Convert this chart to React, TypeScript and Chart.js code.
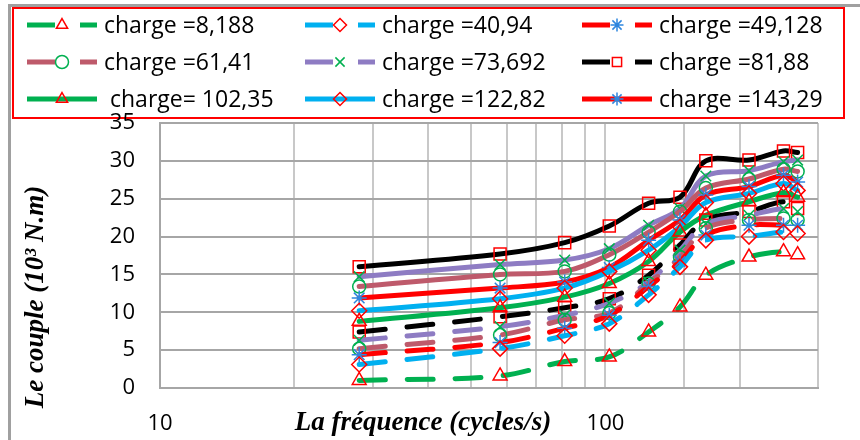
import React, { useEffect, useRef } from 'react';
import { Chart, registerables } from 'chart.js';
import { drawPoint } from 'chart.js/helpers';

Chart.register(...registerables);

// ---- data ----
const frequencies = [28, 58, 81, 102, 125, 147, 168, 210, 251, 270];

const labels = [
  'charge =8,188',
  'charge =40,94',
  'charge =49,128',
  'charge =61,41',
  'charge =73,692',
  'charge =81,88',
  'charge= 102,35',
  'charge =122,82',
  'charge =143,29',
  'charge =163,76',
  'charge =184,23',
  'charge =204,7',
];

const charge8188 = [1.0, 1.6, 3.5, 4.1, 7.4, 10.7, 14.9, 17.3, 18.0, 17.6];
const charge4094 = [3.1, 5.2, 6.9, 8.5, 12.3, 16.0, 19.5, 20.0, 20.6, 20.4];
const charge49128 = [4.4, 6.0, 7.9, 9.6, 13.4, 16.7, 20.2, 21.5, 21.5, 21.5];
const charge6141 = [5.2, 7.0, 9.0, 9.9, 13.8, 17.3, 21.1, 22.2, 22.4, 22.2];
const charge73692 = [6.3, 8.1, 9.6, 11.2, 14.0, 18.2, 21.7, 22.8, 23.7, 23.3];
const charge8188b = [7.4, 9.4, 10.6, 11.8, 14.9, 18.9, 22.2, 23.3, 24.6, 23.7];
const charge10235 = [8.8, 10.6, 12.0, 13.8, 16.7, 20.6, 22.8, 24.6, 25.8, 25.2];
const charge12282 = [10.2, 11.8, 13.2, 15.4, 18.2, 21.3, 24.5, 25.7, 27.0, 26.1];
const charge14329 = [11.9, 13.2, 14.0, 15.9, 19.5, 22.2, 25.5, 26.6, 28.1, 27.2];
const charge16376 = [13.4, 15.0, 15.4, 17.6, 20.6, 23.3, 26.4, 27.6, 28.9, 28.6];
const charge18423 = [14.7, 16.3, 16.9, 18.4, 21.5, 23.7, 28.0, 28.7, 29.9, 30.1];
const charge2047 = [16.0, 17.7, 19.2, 21.4, 24.4, 25.2, 30.0, 30.1, 31.3, 31.1];

const seriesValues = [
  charge8188, charge4094, charge49128, charge6141, charge73692, charge8188b,
  charge10235, charge12282, charge14329, charge16376, charge18423, charge2047,
];

const xTickLabels = [10, 100];
const yMin = 0;
const yMax = 35;
const yStep = 5;
const xMin = 10;
const xMax = 300;

const xTitle = 'La fréquence (cycles/s)';
const yTitle = 'Le couple (10³ N.m)';

// ---- styles ----
const GREEN = '#00B050';
const BLUE = '#00B0F0';
const RED = '#FF0000';
const ROSE = '#BE5A6B';
const PURPLE = '#8E7CC3';
const BLACK = '#000000';
const STAR_BLUE = '#2E86DE';

const lineColors = [GREEN, BLUE, RED, ROSE, PURPLE, BLACK, GREEN, BLUE, RED, ROSE, PURPLE, BLACK];
const markerStyles = ['triangle', 'rectRot', 'star', 'circle', 'crossRot', 'rect'];
const markerColors = [RED, RED, STAR_BLUE, GREEN, GREEN, RED];
const markerRadius: Record<string, number> = {
  triangle: 8, rectRot: 7.5, star: 7.5, circle: 6.5, crossRot: 7.5, rect: 8.5,
};

const legendColX = [27, 305, 582];
const legendRowY = [25, 62, 99];

const FONT = '"Open Sans", "Noto Sans", sans-serif';

const framePlugin = {
  id: 'excelFrame',
  beforeDraw(chart: any) {
    const ctx = chart.ctx as CanvasRenderingContext2D;
    ctx.save();
    ctx.fillStyle = '#ffffff';
    ctx.fillRect(0, 0, chart.width, chart.height);
    // red legend box
    ctx.strokeStyle = '#FF0000';
    ctx.lineWidth = 2;
    ctx.strokeRect(13, 8, 831, 110);
    // outer gray frame
    ctx.strokeStyle = '#A0A0A0';
    ctx.lineWidth = 3;
    ctx.beginPath();
    ctx.moveTo(9.5, 440);
    ctx.lineTo(9.5, 5.5);
    ctx.lineTo(860, 5.5);
    ctx.stroke();

    const datasets = chart.data.datasets;
    for (let i = 0; i < 9; i++) {
      const ds = datasets[i];
      const col = i % 3;
      const row = Math.floor(i / 3);
      const x0 = legendColX[col];
      const y = legendRowY[row];
      ctx.save();
      ctx.strokeStyle = ds.borderColor;
      ctx.lineWidth = 5;
      ctx.lineCap = 'butt';
      ctx.setLineDash(ds.borderDash && ds.borderDash.length ? [28, 25] : []);
      ctx.beginPath();
      ctx.moveTo(x0, y);
      ctx.lineTo(x0 + 70, y);
      ctx.stroke();
      ctx.restore();
      ctx.save();
      ctx.strokeStyle = ds.pointBorderColor;
      ctx.fillStyle = 'rgba(0,0,0,0)';
      ctx.lineWidth = 1.5;
      drawPoint(ctx, { pointStyle: ds.pointStyle, radius: 6.5, borderWidth: 1.5, rotation: 0 } as any, x0 + 35, y);
      ctx.restore();
      ctx.fillStyle = '#000000';
      ctx.font = `23px ${FONT}`;
      ctx.textBaseline = 'middle';
      ctx.textAlign = 'left';
      const tx = x0 + (i === 6 ? 83 : 77);
      ctx.fillText(ds.label, tx, y + 1);
    }
    ctx.restore();
  },
  afterDraw(chart: any) {
    const ctx = chart.ctx as CanvasRenderingContext2D;
    ctx.save();
    ctx.fillStyle = '#000000';
    ctx.font = `bold italic 27px "Liberation Serif", "Times New Roman", serif`;
    ctx.textAlign = 'center';
    ctx.textBaseline = 'middle';
    ctx.fillText(xTitle, 423, 423);
    ctx.translate(36, 297);
    ctx.rotate(-Math.PI / 2);
    ctx.fillText(yTitle, 0, 0);
    ctx.restore();
  },
};

export default function App() {
  const canvasRef = useRef<HTMLCanvasElement | null>(null);

  useEffect(() => {
    if (!canvasRef.current) return;
    const datasets = seriesValues.map((vals, i) => {
      const style = markerStyles[i % 6];
      const dashed = i < 6;
      return {
        label: labels[i],
        data: frequencies.map((f, k) => ({ x: f, y: vals[k] })),
        borderColor: lineColors[i],
        backgroundColor: lineColors[i],
        borderWidth: 5,
        borderDash: dashed ? [26, 22] : [],
        borderCapStyle: 'round' as const,
        tension: 0.35,
        pointStyle: style,
        pointRadius: markerRadius[style],
        pointBorderColor: markerColors[i % 6],
        pointBackgroundColor: 'rgba(0,0,0,0)',
        pointBorderWidth: 1.5,
        fill: false,
      };
    });

    const chart = new Chart(canvasRef.current, {
      type: 'line',
      data: { datasets },
      plugins: [framePlugin],
      options: {
        animation: false,
        responsive: false,
        maintainAspectRatio: false,
        layout: { padding: { top: 123, right: 42, left: 0, bottom: 0 } },
        plugins: {
          legend: { display: false },
          tooltip: { enabled: false },
          title: { display: false },
        },
        scales: {
          x: {
            type: 'logarithmic',
            min: xMin,
            max: xMax,
            grid: { color: '#C8C8C8', lineWidth: 2, drawTicks: false },
            border: { color: '#A6A6A6', width: 2 },
            ticks: {
              autoSkip: false,
              maxRotation: 0,
              padding: 23,
              color: '#000',
              font: { family: FONT, size: 22 },
              callback: (v: any) => (xTickLabels.includes(Number(v)) ? String(v) : ''),
            },
            afterFit: (s: any) => { s.height = 52; },
          },
          y: {
            type: 'linear',
            min: yMin,
            max: yMax,
            grid: { color: '#A6A6A6', lineWidth: 2, drawTicks: false },
            border: { color: '#A6A6A6', width: 2 },
            ticks: {
              stepSize: yStep,
              padding: 25,
              color: '#000',
              font: { family: FONT, size: 22 },
            },
            afterFit: (s: any) => { s.width = 160; },
          },
        },
      },
    } as any);
    return () => chart.destroy();
  }, []);

  return (
    <div style={{ position: 'absolute', left: 0, top: 0, width: 860, height: 440, background: '#fff' }}>
      <canvas ref={canvasRef} width={860} height={440} style={{ display: 'block' }} />
    </div>
  );
}
